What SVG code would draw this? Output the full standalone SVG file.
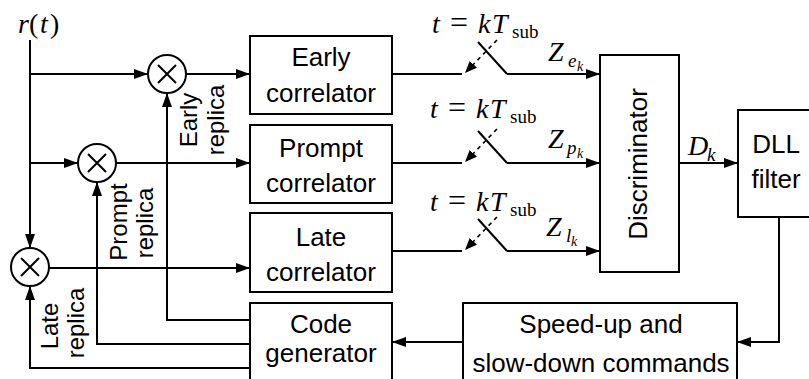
<svg xmlns="http://www.w3.org/2000/svg" width="809" height="379" viewBox="0 0 809 379">
<defs>
<marker id="ah" markerUnits="userSpaceOnUse" markerWidth="14" markerHeight="10" refX="14" refY="5" orient="auto">
<path d="M0,0 L14,5 L0,10 z" fill="#000"/>
</marker>
<marker id="ahs" markerUnits="userSpaceOnUse" markerWidth="12" markerHeight="10" refX="12" refY="5" orient="auto">
<path d="M0,0 L12,5 L0,10 z" fill="#000"/>
</marker>
</defs>
<style>
.box{fill:#fff;stroke:#000;stroke-width:2}
.mix{fill:#fff;stroke:#000;stroke-width:2}
.ln{fill:none;stroke:#000;stroke-width:2}
.arr{fill:none;stroke:#000;stroke-width:2;marker-end:url(#ah)}
.dash{fill:none;stroke:#000;stroke-width:1.6;stroke-dasharray:4 4;marker-end:url(#ahs)}
.t{font-family:"Liberation Sans",Arial,sans-serif;font-size:26px;text-anchor:middle;fill:#000}
.r{font-family:"Liberation Sans",Arial,sans-serif;font-size:24px;text-anchor:middle;fill:#000}
.m{font-family:"Liberation Serif","Times New Roman",serif;font-size:28px;fill:#000}
.i{font-style:italic}
</style>
<rect width="809" height="379" fill="#fff"/>

<g id="connectors">
<path class="ln" d="M30,40 V74"/>
<path class="arr" d="M30,74 H148"/>
<path class="arr" d="M30,74 V163 H78"/>
<path class="arr" d="M30,163 V248"/>
<path class="arr" d="M186,74 H250"/>
<path class="arr" d="M116,163 H250"/>
<path class="arr" d="M49,268 H250"/>
<path class="arr" d="M250,320 H167 V93"/>
<path class="arr" d="M250,344 H97 V182"/>
<path class="arr" d="M250,368 H30 V286"/>
<path class="ln" d="M392,74 H462"/>
<path class="ln" d="M478,42 L507,74"/>
<path class="arr" d="M507,74 H600"/>
<path class="dash" d="M497,40 L465,73"/>
<path class="ln" d="M392,163 H462"/>
<path class="ln" d="M478,131 L507,163"/>
<path class="arr" d="M507,163 H600"/>
<path class="dash" d="M497,129 L465,162"/>
<path class="ln" d="M392,251 H462"/>
<path class="ln" d="M478,219 L507,251"/>
<path class="arr" d="M507,251 H600"/>
<path class="dash" d="M497,217 L465,250"/>
<path class="arr" d="M679,163 H738"/>
<path class="arr" d="M779,217 V342 H737"/>
<path class="arr" d="M463,342 H392"/>
</g>

<g id="mixer-early"><circle class="mix" cx="167" cy="74" r="19"/><path class="ln" d="M158,65 L176,83 M176,65 L158,83"/></g>
<g id="mixer-prompt"><circle class="mix" cx="97" cy="163" r="19"/><path class="ln" d="M88,154 L106,172 M106,154 L88,172"/></g>
<g id="mixer-late"><circle class="mix" cx="30" cy="267" r="19"/><path class="ln" d="M21,258 L39,276 M39,258 L21,276"/></g>

<g id="early-correlator"><rect class="box" x="250" y="36" width="142" height="78"/><text class="t" x="321" y="66">Early</text><text class="t" x="321" y="102">correlator</text></g>
<g id="prompt-correlator"><rect class="box" x="250" y="125" width="142" height="78"/><text class="t" x="321" y="157">Prompt</text><text class="t" x="321" y="192">correlator</text></g>
<g id="late-correlator"><rect class="box" x="250" y="213" width="142" height="79"/><text class="t" x="321" y="246">Late</text><text class="t" x="321" y="281">correlator</text></g>
<g id="code-generator"><rect class="box" x="250" y="303" width="142" height="90"/><text class="t" x="321" y="333">Code</text><text class="t" x="321" y="362">generator</text></g>
<g id="speed-up"><rect class="box" x="463" y="303" width="274" height="90"/><text class="t" x="601" y="333">Speed-up and</text><text class="t" x="601" y="372">slow-down commands</text></g>
<g id="discriminator"><rect class="box" x="600" y="55" width="79" height="217"/><text class="t" transform="translate(647,164) rotate(-90)">Discriminator</text></g>
<g id="dll-filter"><rect class="box" x="738" y="110" width="80" height="107"/><text class="t" x="776" y="153">DLL</text><text class="t" x="776" y="188">filter</text></g>

<g id="labels">
<text class="r" transform="translate(197,120) rotate(-90)">Early</text>
<text class="r" transform="translate(224,120) rotate(-90)">replica</text>
<text class="r" transform="translate(127,222) rotate(-90)">Prompt</text>
<text class="r" transform="translate(153,223) rotate(-90)">replica</text>
<text class="r" transform="translate(58,326) rotate(-90)">Late</text>
<text class="r" transform="translate(84,323) rotate(-90)">replica</text>

<text class="m" y="33"><tspan x="18" class="i">r</tspan><tspan x="29">(</tspan><tspan x="40" class="i">t</tspan><tspan x="50">)</tspan></text>

<text class="m" y="33"><tspan x="432" class="i">t</tspan><tspan x="450" font-size="32">=</tspan><tspan x="478" class="i">k</tspan><tspan x="492" class="i">T</tspan><tspan x="512" y="38" font-size="19">sub</tspan></text>
<text class="m" y="118"><tspan x="430" class="i">t</tspan><tspan x="448" font-size="32">=</tspan><tspan x="476" class="i">k</tspan><tspan x="490" class="i">T</tspan><tspan x="510" y="123" font-size="19">sub</tspan></text>
<text class="m" y="211"><tspan x="430" class="i">t</tspan><tspan x="448" font-size="32">=</tspan><tspan x="476" class="i">k</tspan><tspan x="490" class="i">T</tspan><tspan x="510" y="216" font-size="19">sub</tspan></text>

<text class="m" y="61"><tspan x="548" class="i">Z</tspan><tspan x="568" y="67" font-size="19" class="i">e</tspan><tspan x="577" y="71" font-size="14" class="i">k</tspan></text>
<text class="m" y="148"><tspan x="548" class="i">Z</tspan><tspan x="567" y="154" font-size="19" class="i">p</tspan><tspan x="577" y="158" font-size="14" class="i">k</tspan></text>
<text class="m" y="236"><tspan x="546" class="i">Z</tspan><tspan x="566" y="242" font-size="19" class="i">l</tspan><tspan x="571" y="246" font-size="14" class="i">k</tspan></text>

<text class="m" y="155"><tspan x="688" class="i">D</tspan><tspan x="707" y="161" font-size="19" class="i">k</tspan></text>
</g>
</svg>
